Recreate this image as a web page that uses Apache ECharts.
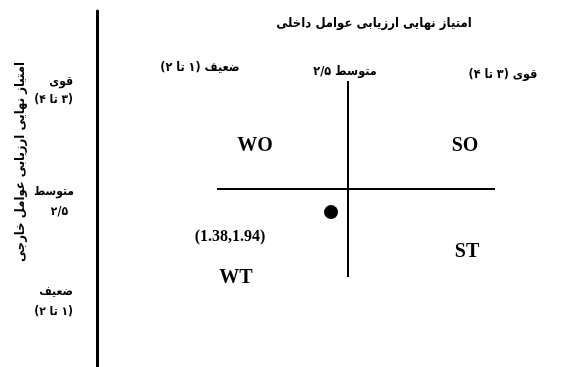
<!DOCTYPE html>
<html>
<head>
<meta charset="utf-8">
<script src="https://cdn.jsdelivr.net/npm/echarts@6/dist/echarts.min.js"></script>
<style>html,body{margin:0;padding:0;background:#fff}#c{width:584px;height:367px}</style>
</head>
<body>
<div id="c"></div>
<script>
// ---- data ----
const internalTitle = 'امتیاز نهایی ارزیابی عوامل داخلی';
const externalTitle = 'امتیاز نهایی ارزیابی عوامل خارجی';
const internalLevels = ['ضعیف (۱ تا ۲)', 'متوسط ۲/۵', 'قوی (۳ تا ۴)'];
const externalLevels = [['قوی', '(۳ تا ۴)'], ['متوسط', '۲/۵'], ['ضعیف', '(۱ تا ۲)']];
const quadrants = ['WO', 'SO', 'ST', 'WT'];
const midValue = 2.5;
const internalScore = 1.38;
const externalScore = 1.94;

const RTL = s => '\u202B' + s + '\u202C';
const faFont = '"DejaVu Sans Condensed", "DejaVu Sans", sans-serif';
const enFont = '"Liberation Serif", "DejaVu Serif", serif';

const chart = echarts.init(document.getElementById('c'), null, {renderer: 'canvas'});

function txt(x, y, text, opt) {
  return {
    type: 'text', x: x, y: y, silent: true,
    style: Object.assign({text: text, fill: '#000', align: 'center', verticalAlign: 'middle'}, opt || {})
  };
}

const faStyle = {font: 'bold 12.5px ' + faFont};
const faLeft = {font: 'bold 12px ' + faFont, align: 'right'};
const enStyle = {font: 'bold 20px ' + enFont};

const graphics = [
  txt(374, 24, RTL(internalTitle), {font: 'bold 13px ' + faFont}),
  txt(200, 68, RTL(internalLevels[0]), faStyle),
  txt(345, 72, RTL(internalLevels[1]), faStyle),
  txt(503, 75, RTL(internalLevels[2]), faStyle),
  Object.assign(txt(0, 0, RTL(externalTitle), {font: 'bold 13px ' + faFont}), {x: 21, y: 162, rotation: Math.PI / 2}),
  txt(73, 82, RTL(externalLevels[0][0]), faLeft),
  txt(73, 100, RTL(externalLevels[0][1]), faLeft),
  txt(74, 192, RTL(externalLevels[1][0]), faLeft),
  txt(68, 212, RTL(externalLevels[1][1]), faLeft),
  txt(73, 292, RTL(externalLevels[2][0]), faLeft),
  txt(73, 312, RTL(externalLevels[2][1]), faLeft),
  txt(255, 146, quadrants[0], enStyle),
  txt(465, 146, quadrants[1], enStyle),
  txt(467, 252, quadrants[2], enStyle),
  txt(236, 278, quadrants[3], enStyle)
];

chart.setOption({
  animation: false,
  backgroundColor: '#fff',
  grid: [
    {left: 217, right: 89, top: 81, bottom: 90},
    {left: 97.5, top: 11, bottom: 0, width: 1}
  ],
  xAxis: [
    {type: 'value', gridIndex: 0, min: -6.13, max: 12.18, show: false},
    {type: 'value', gridIndex: 1, show: false}
  ],
  yAxis: [
    {type: 'value', gridIndex: 0, min: 0.36, max: 5.13, show: false},
    {type: 'value', gridIndex: 1, axisLine: {show: true, lineStyle: {color: '#000', width: 3}},
     axisTick: {show: false}, axisLabel: {show: false}, splitLine: {show: false}}
  ],
  series: [{
    type: 'scatter',
    xAxisIndex: 0, yAxisIndex: 0,
    symbolSize: 14,
    itemStyle: {color: '#000', opacity: 1},
    emphasis: {disabled: true},
    data: [[internalScore, externalScore]],
    label: {
      show: true,
      formatter: p => '(' + p.value[0] + ',' + p.value[1] + ')',
      position: 'bottom',
      offset: [-101, 5],
      color: '#000',
      opacity: 1,
      textBorderWidth: 0,
      fontFamily: enFont,
      fontWeight: 'bold',
      fontSize: 16
    },
    markLine: {
      silent: true,
      symbol: 'none',
      animation: false,
      label: {show: false},
      emphasis: {disabled: true},
      lineStyle: {color: '#000', width: 2, type: 'solid', opacity: 1},
      data: [{xAxis: midValue}, {yAxis: midValue}]
    }
  }],
  graphic: graphics
});
</script>
</body>
</html>
